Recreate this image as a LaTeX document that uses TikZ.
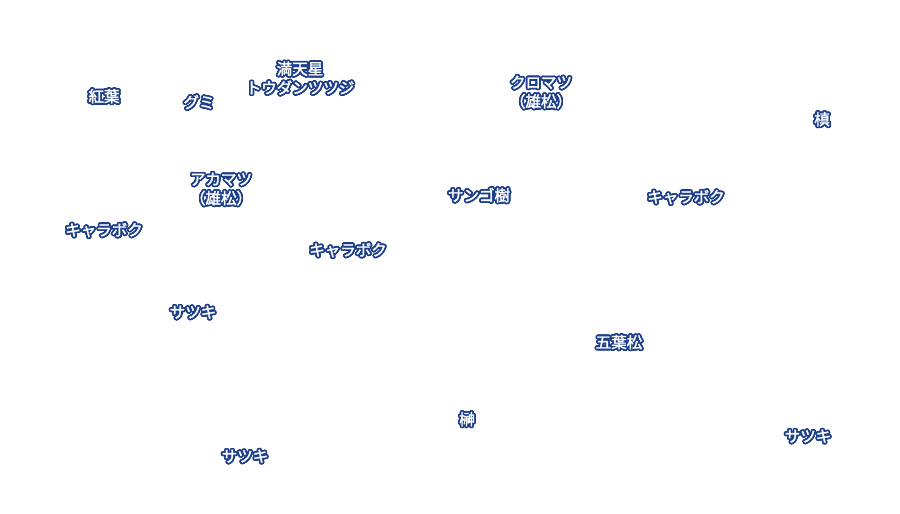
\documentclass[tikz,border=0pt]{standalone}
\usepackage{fontspec}
\newfontfamily\jp{Noto Sans CJK JP}[FakeBold=2]
\usepackage{contour}
\contourlength{1.7pt}
\contournumber{24}
\definecolor{lblue}{HTML}{1E3F8A}
\tikzset{lbl/.style={font=\jp\fontsize{15.5}{19}\selectfont, text=white, align=center, inner sep=0pt}}
\newcommand{\lb}[1]{\contour{lblue}{#1}}
\begin{document}
\begin{tikzpicture}[x=1pt,y=-1pt]
\useasboundingbox[fill=white] (0,0) rectangle (900,514);
\node[lbl] (n1) at (104,97) {\lb{紅葉}};
\node[lbl] (n2) at (199,103) {\lb{グミ}};
\node[lbl] (n3) at (300,79) {\lb{満天星}\\\lb{トウダンツツジ}};
\node[lbl] (n4) at (541,93) {\lb{クロマツ}\\\lb{（雄松）}};
\node[lbl] (n5) at (822,120) {\lb{槙}};
\node[lbl] (n6) at (221,190) {\lb{アカマツ}\\\lb{（雄松）}};
\node[lbl] (n7) at (479,196) {\lb{サンゴ樹}};
\node[lbl] (n8) at (686,198) {\lb{キャラボク}};
\node[lbl] (n9) at (104,231) {\lb{キャラボク}};
\node[lbl] (n10) at (348,251) {\lb{キャラボク}};
\node[lbl] (n11) at (193,313) {\lb{サツキ}};
\node[lbl] (n12) at (619,343) {\lb{五葉松}};
\node[lbl] (n13) at (467,420) {\lb{榊}};
\node[lbl] (n14) at (808,437) {\lb{サツキ}};
\node[lbl] (n15) at (245,457) {\lb{サツキ}};
\end{tikzpicture}
\end{document}
